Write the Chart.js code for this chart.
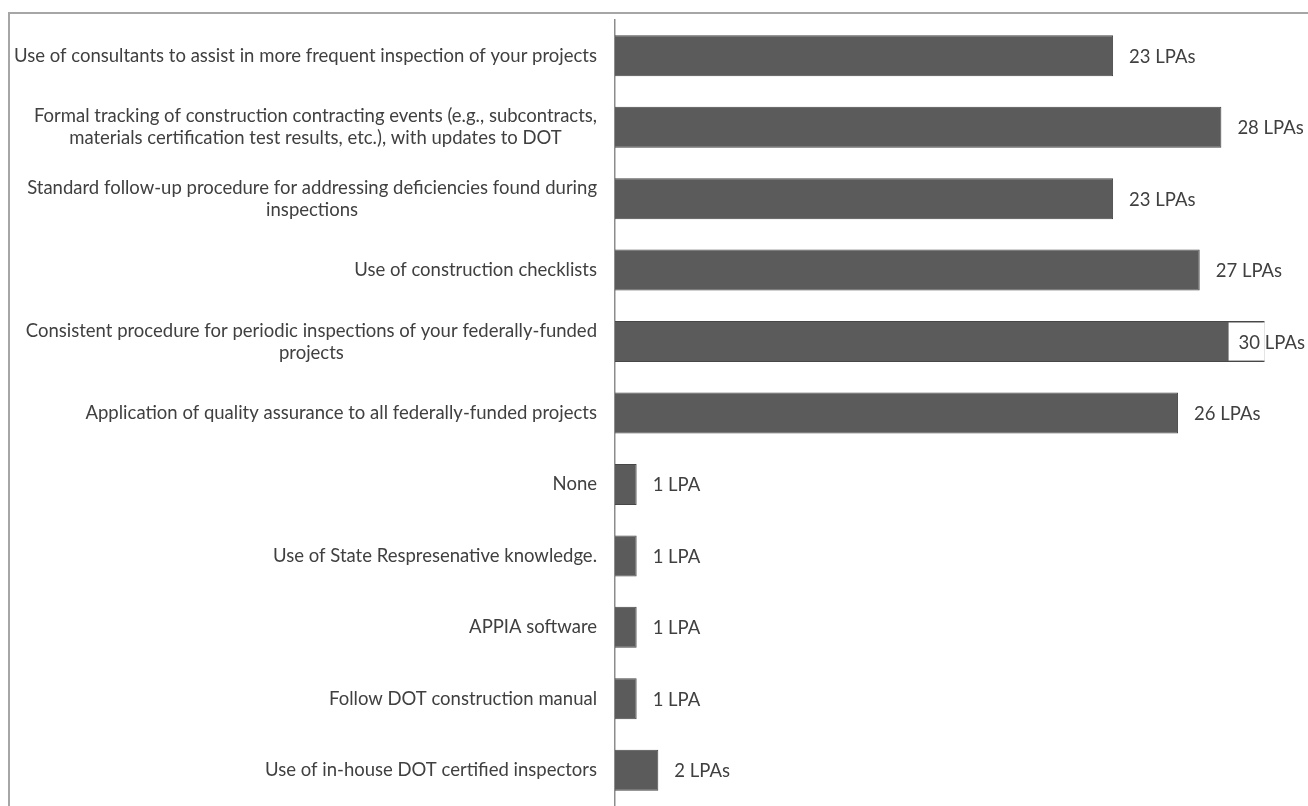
<!DOCTYPE html>
<html>
<head>
<meta charset="utf-8">
<script src="https://cdn.jsdelivr.net/npm/chart.js@4.4.0/dist/chart.umd.min.js"></script>
<style>
  html, body { margin: 0; padding: 0; background: #fff; overflow: hidden; }
  #frame { position: absolute; left: 8px; top: 12px; width: 1400px; height: 900px;
           border-top: 2px solid #a6a6a6; border-left: 2px solid #a6a6a6; }
  #chart { position: absolute; left: 0; top: 0; }
</style>
</head>
<body>
<div id="frame"></div>
<canvas id="chart" width="1308" height="806"></canvas>
<script>
// categories, top to bottom
const practices = [
  'Use of consultants to assist in more frequent inspection of your projects',
  ['Formal tracking of construction contracting events (e.g., subcontracts,', 'materials certification test results, etc.), with updates to DOT'],
  ['Standard follow-up procedure for addressing deficiencies found during', 'inspections'],
  'Use of construction checklists',
  ['Consistent procedure for periodic inspections of your federally-funded', 'projects'],
  'Application of quality assurance to all federally-funded projects',
  'None',
  'Use of State Respresenative knowledge.',
  'APPIA software',
  'Follow DOT construction manual',
  'Use of in-house DOT certified inspectors'
];
const lpaCounts = [23, 28, 23, 27, 30, 26, 1, 1, 1, 1, 2];
const countLabels = ['23 LPAs', '28 LPAs', '23 LPAs', '27 LPAs', '30 LPAs', '26 LPAs',
                     '1 LPA', '1 LPA', '1 LPA', '1 LPA', '2 LPAs'];

const FONT = '18.5px Lato, Carlito, "Open Sans", sans-serif';
const TEXT = '#404040';

// category labels: block right-aligned to the axis, lines centred inside the block
const catLabels = {
  id: 'catLabels',
  afterDraw(chart) {
    const ctx = chart.ctx;
    const y = chart.scales.y;
    const right = y.right - 18;
    ctx.save();
    ctx.font = FONT;
    ctx.fillStyle = TEXT;
    ctx.textBaseline = 'middle';
    ctx.textAlign = 'center';
    practices.forEach((lab, i) => {
      const lines = Array.isArray(lab) ? lab : [lab];
      const w = Math.max(...lines.map(l => ctx.measureText(l).width));
      const cx = right - w / 2;
      const cy = y.getPixelForTick(i);
      const lh = 22;
      lines.forEach((l, k) => {
        ctx.fillText(l, cx, cy + (k - (lines.length - 1) / 2) * lh);
      });
    });
    ctx.restore();
  }
};

// value labels after the bar end
const valueLabels = {
  id: 'valueLabels',
  afterDatasetsDraw(chart) {
    const ctx = chart.ctx;
    const meta = chart.getDatasetMeta(0);
    ctx.save();
    ctx.font = FONT;
    ctx.textBaseline = 'middle';
    ctx.textAlign = 'left';
    meta.data.forEach((bar, i) => {
      const txt = countLabels[i];
      const w = ctx.measureText(txt).width;
      let x = bar.x + 16;
      if (x + w > chart.width - 3) {
        x = chart.width - 3 - w;
        const h = bar.height;
        ctx.fillStyle = '#fff';
        ctx.fillRect(x - 10, bar.y - h / 2 + 1.5, bar.x - x + 10, h - 3);
      }
      ctx.fillStyle = TEXT;
      ctx.fillText(txt, x, bar.y + 1);
    });
    ctx.restore();
  }
};

new Chart(document.getElementById('chart'), {
  type: 'bar',
  data: {
    labels: practices,
    datasets: [{
      data: lpaCounts,
      backgroundColor: '#5b5b5b',
      borderColor: '#474747',
      borderWidth: 1,
      categoryPercentage: 1,
      barPercentage: 0.574
    }]
  },
  options: {
    indexAxis: 'y',
    responsive: false,
    animation: false,
    layout: { padding: { top: 20, right: 0, bottom: 0, left: 0 } },
    plugins: { legend: { display: false }, tooltip: { enabled: false } },
    scales: {
      x: { display: false, min: 0, max: 32 },
      y: {
        grid: { display: false, drawTicks: false },
        border: { display: true, color: '#8c8c8c', width: 1.5 },
        ticks: { display: false },
        afterFit(scale) { scale.width = 615; }
      }
    }
  },
  plugins: [catLabels, valueLabels]
});
</script>
</body>
</html>
